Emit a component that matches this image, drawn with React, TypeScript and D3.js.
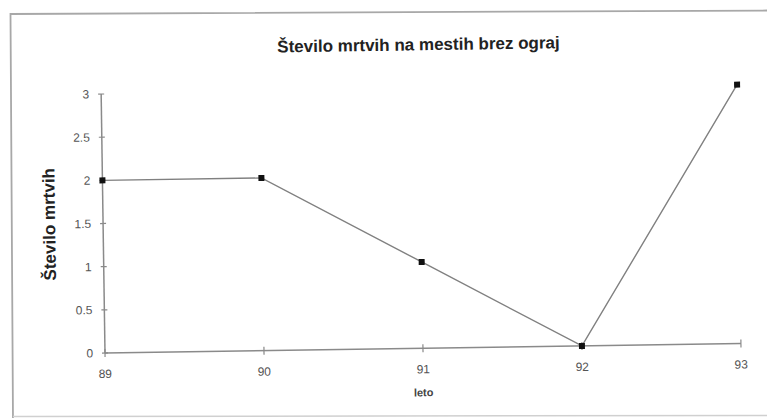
import React from "react";
import * as d3 from "d3";

const years = ["89", "90", "91", "92", "93"];
const deaths = [2, 2, 1, 0, 3];
const yTicks = [0, 0.5, 1, 1.5, 2, 2.5, 3];
const titleText = "Število mrtvih na mestih brez ograj";
const yLabel = "Število mrtvih";
const xLabel = "leto";

const W = 767;
const H = 418;
const left = 105;
const right = 741;
const top = 94;
const bottom = 353;
const tilt = -0.85;

export default function App() {
  const x = d3.scalePoint<string>().domain(years).range([left, right]);
  const y = d3.scaleLinear().domain([0, 3]).range([bottom, top]);
  const line = d3
    .line<number>()
    .x((_, i) => x(years[i]) as number)
    .y((d) => y(d));
  const font = "'Liberation Sans', Arial, sans-serif";
  const cx = (left + right) / 2;
  const cy = (top + bottom) / 2;

  return (
    <svg
      width={W}
      height={H}
      style={{ position: "absolute", left: 0, top: 0, background: "#fff" }}
    >
      <rect x={0} y={0} width={W} height={H} fill="#fff" />
      <polyline
        points={`13,420 10.5,14 770,10.5`}
        fill="none"
        stroke="#a8a8a8"
        strokeWidth={1.8}
      />
      <line x1={13} y1={416.5} x2={770} y2={415.5} stroke="#d0d0d0" strokeWidth={1.5} />
      <g transform={`rotate(${tilt},${left},${bottom})`} fontFamily={font}>
        <text
          x={cx}
          y={55}
          textAnchor="middle"
          fontWeight="bold"
          fontSize={17}
          fill="#222"
        >
          {titleText}
        </text>
        <text
          transform={`translate(57,${cy}) rotate(-90)`}
          textAnchor="middle"
          fontWeight="bold"
          fontSize={17}
          fill="#222"
        >
          {yLabel}
        </text>
        <text
          x={cx}
          y={401}
          textAnchor="middle"
          fontWeight="bold"
          fontSize={11}
          fill="#444"
        >
          {xLabel}
        </text>
        <line x1={left} y1={bottom} x2={left} y2={top} stroke="#8a8a8a" strokeWidth={1.5} />
        <line x1={left} y1={bottom} x2={right} y2={bottom} stroke="#8a8a8a" strokeWidth={1.5} />
        {yTicks.map((t) => (
          <g key={"y" + t}>
            <line
              x1={left - 3}
              x2={left + 3}
              y1={y(t)}
              y2={y(t)}
              stroke="#8a8a8a"
              strokeWidth={1.2}
            />
            <text
              x={93}
              y={y(t)}
              dy="0.35em"
              textAnchor="end"
              fontSize={12}
              fill="#555"
            >
              {String(t)}
            </text>
          </g>
        ))}
        {years.map((yr) => (
          <g key={"x" + yr}>
            <line
              x1={x(yr)}
              x2={x(yr)}
              y1={bottom - 4}
              y2={bottom + 4}
              stroke="#8a8a8a"
              strokeWidth={1.2}
            />
            <text
              x={x(yr)}
              y={bottom + 25}
              textAnchor="middle"
              fontSize={12}
              fill="#555"
            >
              {yr}
            </text>
          </g>
        ))}
        <path d={line(deaths) || ""} fill="none" stroke="#808080" strokeWidth={1.4} />
        {deaths.map((d, i) => (
          <rect
            key={"p" + i}
            x={(x(years[i]) as number) - 3}
            y={y(d) - 3}
            width={6}
            height={6}
            fill="#111"
          />
        ))}
      </g>
    </svg>
  );
}
